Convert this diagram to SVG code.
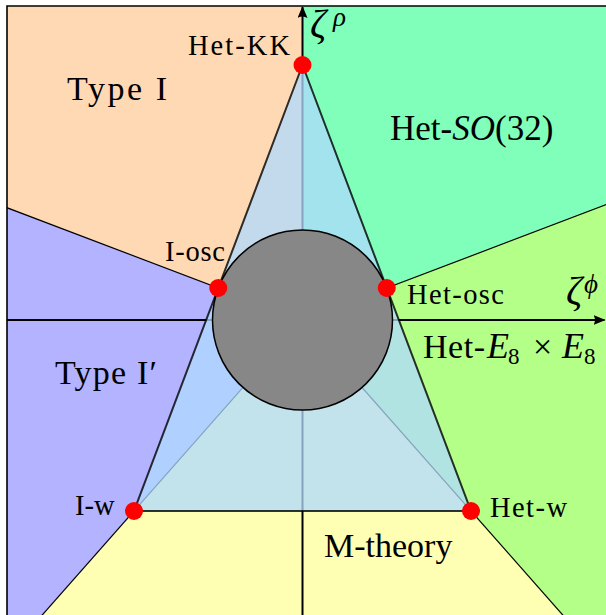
<svg xmlns="http://www.w3.org/2000/svg" width="606" height="615" viewBox="0 0 606 615">
<defs>
<clipPath id="frame"><rect x="7" y="6" width="700" height="700"/></clipPath>
<marker id="arr" viewBox="0 0 12 10" refX="11" refY="5" markerWidth="12" markerHeight="10" markerUnits="userSpaceOnUse" orient="auto"><path d="M0,0 L12,5 L0,10 Q3,5 0,0 Z" fill="#000"/></marker>
</defs>
<style>
text{font-family:"Liberation Serif","DejaVu Serif",serif;fill:#000}
.lg{font-size:34px}
.sm{font-size:28.5px}
.it{font-style:italic}
.sub{font-size:23px}
.bd{stroke:#000;stroke-width:1.2;fill:none}
.ax{stroke:#000;stroke-width:2;fill:none}
.dot{fill:#ff0000}
</style>
<g id="regions" clip-path="url(#frame)">
<g id="type-i"><polygon points="302.5,320 302.5,-1000 -540,-1000 -540,0" fill="#FFD9B3"/></g>
<g id="het-so32"><polygon points="302.5,320 302.5,-1000 1145,-1000 1145,0" fill="#80FFBA"/></g>
<g id="type-i-prime"><polygon points="302.5,320 -540,0 -540,1275" fill="#B3B3FF"/></g>
<g id="het-e8e8"><polygon points="302.5,320 1145,0 1145,1275" fill="#B3FF88"/></g>
<g id="m-theory"><polygon points="302.5,320 -540,1275 1145,1275" fill="#FFFFB3"/></g>
</g>
<g id="connectors" clip-path="url(#frame)">
<line class="bd" x1="302.5" y1="320" x2="-540" y2="0"/>
<line class="bd" x1="302.5" y1="320" x2="1145" y2="0"/>
<line class="bd" x1="302.5" y1="320" x2="-540" y2="1275"/>
<line class="bd" x1="302.5" y1="320" x2="1145" y2="1275"/>
<line class="ax" x1="302.5" y1="700" x2="302.5" y2="7" marker-end="url(#arr)"/>
<line class="ax" x1="7" y1="320" x2="604.5" y2="320" marker-end="url(#arr)"/>
</g>
<g id="triangle">
<polygon points="302.5,65 134,511 471,511" fill="#AFD9FF" fill-opacity="0.75" stroke="#000" stroke-opacity="0.8" stroke-width="2"/>
</g>
<g id="disk">
<circle cx="302.5" cy="320" r="90" fill="#878787" stroke="#000" stroke-width="1.5"/>
</g>
<g id="frame-lines"><path d="M7,615 V6 H606" fill="none" stroke="#000" stroke-width="1.6"/></g>
<g id="het-kk"><circle class="dot" cx="302.5" cy="65" r="9"/><text class="sm" x="188" y="55" textLength="102">Het-KK</text></g>
<g id="i-osc"><circle class="dot" cx="218.25" cy="288" r="9"/><text class="sm" x="165" y="261" textLength="60">I-osc</text></g>
<g id="het-osc"><circle class="dot" cx="386.75" cy="288" r="9"/><text class="sm" x="407" y="304" textLength="97">Het-osc</text></g>
<g id="i-w"><circle class="dot" cx="134" cy="511" r="9"/><text class="sm" x="75" y="514.5">I-w</text></g>
<g id="het-w"><circle class="dot" cx="471" cy="511" r="9"/><text class="sm" x="490" y="517" textLength="77">Het-w</text></g>
<g id="labels">
<text class="lg" x="67" y="100" textLength="100">Type I</text>
<text class="lg" x="55" y="384" textLength="102">Type I′</text>
<text class="lg" x="324" y="557">M-theory</text>
<text x="390" y="140" style="font-size:35px">Het-<tspan class="it">SO</tspan>(32)</text>
<text class="lg" x="423" y="358"><tspan x="423" textLength="62">Het-</tspan><tspan class="it" x="487" style="font-size:36px">E</tspan><tspan class="sub" x="508" dy="6">8</tspan><tspan x="533" dy="-6">×</tspan><tspan class="it" x="562" style="font-size:36px">E</tspan><tspan class="sub" x="584" dy="6">8</tspan></text>
<text x="310" y="37" style="font-size:40px"><tspan class="it">ζ</tspan><tspan class="it" x="333" y="26" style="font-size:27px">ρ</tspan></text>
<text x="566" y="304" style="font-size:40px"><tspan class="it">ζ</tspan><tspan class="it" x="584" y="293" style="font-size:27px">ϕ</tspan></text>
</g>
</svg>
